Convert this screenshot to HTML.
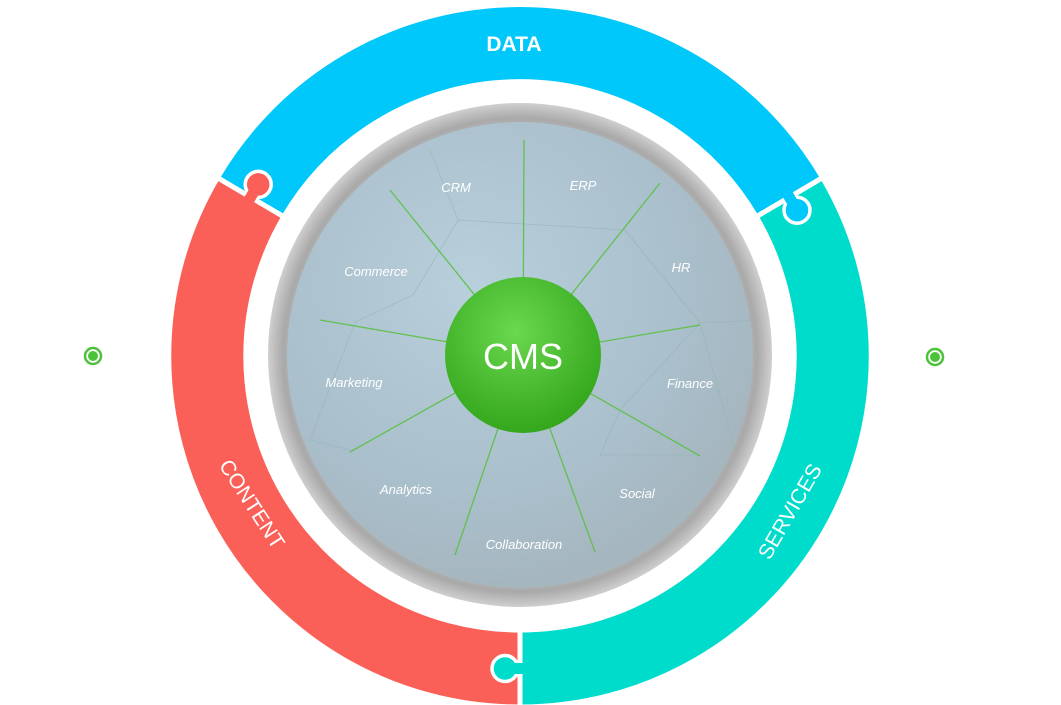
<!DOCTYPE html>
<html><head><meta charset="utf-8"><style>
html,body{margin:0;padding:0;background:#fff;width:1061px;height:705px;overflow:hidden}
svg{display:block}
text{font-family:"Liberation Sans","DejaVu Sans",sans-serif}
</style></head><body>
<svg width="1061" height="705" viewBox="0 0 1061 705" xmlns="http://www.w3.org/2000/svg">
<defs>
<radialGradient id="rim" cx="50%" cy="50%" r="50%">
<stop offset="0.86" stop-color="#c2c2c2"/><stop offset="0.94" stop-color="#a9a9a9"/><stop offset="1" stop-color="#cfcfcf"/>
</radialGradient>
<radialGradient id="glass" cx="40%" cy="35%" r="65%">
<stop offset="0" stop-color="#b8d0dc"/><stop offset="0.7" stop-color="#a9bfcb"/><stop offset="1" stop-color="#a6b6bf"/>
</radialGradient>
<radialGradient id="cms" cx="45%" cy="35%" r="65%">
<stop offset="0" stop-color="#6bd84f"/><stop offset="1" stop-color="#34a71c"/>
</radialGradient>
</defs>
<!-- ring -->
<g stroke="#fff" stroke-width="5">
<path d="M217.4 177.7 A351 351 0 0 1 822.6 177.7 L756.2 216.8 A274 274 0 0 0 283.8 216.8 Z" fill="#00c8fa"/>
<path d="M822.6 177.7 A351 351 0 0 1 520 707 L520 630 A274 274 0 0 0 756.2 216.8 Z" fill="#00dccb"/>
<path d="M520 707 A351 351 0 0 1 217.4 177.7 L283.8 216.8 A274 274 0 0 0 520 630 Z" fill="#fa6058"/>
</g>
<!-- knobs -->
<circle cx="258.2" cy="184.4" r="13" fill="#fa6058" stroke="#fff" stroke-width="3.5"/>
<line x1="248.1" y1="201.6" x2="258.2" y2="184.4" stroke="#fa6058" stroke-width="11"/>
<circle cx="797" cy="210.2" r="13" fill="#00c8fa" stroke="#fff" stroke-width="3.5"/>
<line x1="786.9" y1="193" x2="797" y2="210.2" stroke="#00c8fa" stroke-width="11"/>
<circle cx="505" cy="668.5" r="13" fill="#00dccb" stroke="#fff" stroke-width="3.5"/>
<line x1="525" y1="668.5" x2="505" y2="668.5" stroke="#00dccb" stroke-width="11"/>
<!-- ring labels -->
<text x="514" y="51" fill="#fff" font-size="21" font-weight="bold" text-anchor="middle">DATA</text>
<text x="0" y="0" fill="#fff" font-size="21" text-anchor="middle" transform="translate(246,508) rotate(57)">CONTENT</text>
<text x="0" y="0" fill="#fff" font-size="21" text-anchor="middle" transform="translate(796,515) rotate(-60)">SERVICES</text>
<!-- side dots -->
<circle cx="93" cy="356" r="8" fill="#fff" stroke="#4cc23a" stroke-width="2.5"/><circle cx="93" cy="356" r="5" fill="#4cc23a"/>
<circle cx="935" cy="357" r="8" fill="#fff" stroke="#4cc23a" stroke-width="2.5"/><circle cx="935" cy="357" r="5" fill="#4cc23a"/>
<!-- sphere -->
<circle cx="520" cy="355" r="252" fill="url(#rim)"/>
<circle cx="520" cy="355" r="233" fill="url(#glass)"/>
<g stroke="#93b6b3" stroke-width="0.8" fill="none" opacity="0.7">
<path d="M458 220 L625 230 L700 323 L620 410 L600 455 L700 455"/>
<path d="M413 295 L458 220 L430 150 M413 295 L355 322 L310 440 L350 450"/>
<path d="M625 230 L700 323 L735 450 M700 323 L760 320"/>
</g>
<g stroke="#62c04e" stroke-width="1.3">
<line x1="523" y1="355" x2="390" y2="190"/>
<line x1="523" y1="355" x2="524" y2="140"/>
<line x1="523" y1="355" x2="660" y2="183"/>
<line x1="523" y1="355" x2="320" y2="320"/>
<line x1="523" y1="355" x2="700" y2="325"/>
<line x1="523" y1="355" x2="350" y2="452"/>
<line x1="523" y1="355" x2="700" y2="456"/>
<line x1="523" y1="355" x2="455" y2="555"/>
<line x1="523" y1="355" x2="595" y2="552"/>
</g>
<circle cx="523" cy="355" r="78" fill="url(#cms)"/>
<text x="523" y="369" fill="#fff" font-size="36" text-anchor="middle">CMS</text>
<g fill="#fff" font-size="13" font-style="italic" text-anchor="middle">
<text x="456" y="192">CRM</text>
<text x="583" y="190">ERP</text>
<text x="681" y="272">HR</text>
<text x="376" y="276">Commerce</text>
<text x="690" y="388">Finance</text>
<text x="354" y="387">Marketing</text>
<text x="406" y="494">Analytics</text>
<text x="637" y="498">Social</text>
<text x="524" y="549">Collaboration</text>
</g>
</svg>
</body></html>
